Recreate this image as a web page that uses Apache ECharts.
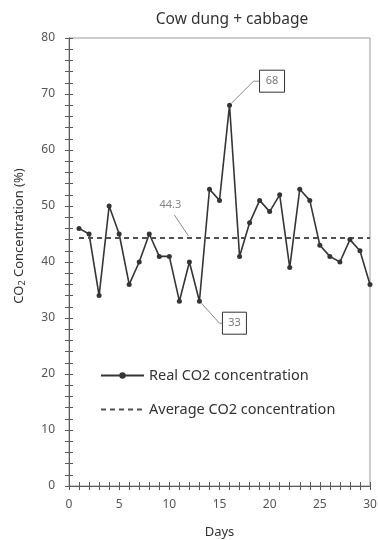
<!DOCTYPE html>
<html><head><meta charset="utf-8">
<script src="https://cdn.jsdelivr.net/npm/echarts@6/dist/echarts.min.js"></script>
<style>html,body{margin:0;padding:0;background:#fff}#c{width:378px;height:540px}</style>
</head><body><div id="c"></div>
<script>
var days = [1,2,3,4,5,6,7,8,9,10,11,12,13,14,15,16,17,18,19,20,21,22,23,24,25,26,27,28,29,30];
var realCO2 = [46,45,34,50,45,36,40,45,41,41,33,40,33,53,51,68,41,47,51,49,52,39,53,51,43,41,40,44,42,36];
var averageCO2 = 44.3;
var avgRange = [1,30];
var xTicks = [0,5,10,15,20,25,30];
var yTicks = [0,10,20,30,40,50,60,70,80];
var annotations = [{day:16, value:68, text:'68'},{day:13, value:33, text:'33'}];

var FONT = 'Noto Sans';
var axisColor = '#5a5a5a';
var GL = 69, GR = 8, GT = 38, GB = 54, W = 378, H = 540;
var chart = echarts.init(document.getElementById('c'), null, {renderer:'canvas'});
function xAx(main, gi){
  return {type:'value', gridIndex:gi, min:xTicks[0], max:xTicks[xTicks.length-1], interval:xTicks[1]-xTicks[0],
    position: main ? 'bottom' : 'top',
    axisLine:{show:true, onZero:false, lineStyle:{color:axisColor, width:1}},
    axisTick:{show:true, inside:false, length:4, lineStyle:{color:axisColor}},
    minorTick:{show:true, splitNumber:5, length:4, lineStyle:{color:axisColor}},
    axisLabel:{show:main, color:'#555', fontFamily:FONT, fontSize:12, margin:13},
    splitLine:{show:false}, minorSplitLine:{show:false},
    name: main ? 'Days' : '', nameLocation:'middle', nameGap:40,
    nameTextStyle:{color:'#333', fontFamily:FONT, fontSize:13}, z: main ? 3 : 4};
}
function yAx(main, gi){
  return {type:'value', gridIndex:gi, min:yTicks[0], max:yTicks[yTicks.length-1], interval:yTicks[1]-yTicks[0],
    position: main ? 'left' : 'right',
    axisLine:{show:true, onZero:false, lineStyle:{color:axisColor, width:1}},
    axisTick:{show:true, inside:false, length:4, lineStyle:{color:axisColor}},
    minorTick:{show:true, splitNumber:5, length:4, lineStyle:{color:axisColor}},
    axisLabel:{show:main, color:'#555', fontFamily:FONT, fontSize:12, margin:14},
    splitLine:{show:false}, minorSplitLine:{show:false},
    name: main ? 'CO{sub|2} Concentration (%)' : '', nameLocation:'middle', nameGap:42,
    nameTextStyle:{color:'#333', fontFamily:FONT, fontSize:13, padding:[0,0,0,52],
      rich:{sub:{fontSize:9, verticalAlign:'bottom', padding:[7,0,0,0], fontFamily:FONT, color:'#333'}}}};
}
function hidden(type, gi){
  return {type:'value', gridIndex:gi, show:false, min:0, max:1};
}
var option = {
  animation:false,
  backgroundColor:'#fff',
  title:{text:'Cow dung + cabbage', left:227, textAlign:'center', top:7,
    textStyle:{color:'#333', fontFamily:FONT, fontSize:15.5, fontWeight:'normal'}},
  grid:[
    {left:GL, right:GR, top:GT, bottom:GB, show:true, borderColor:'#9a9a9a', borderWidth:1, backgroundColor:'transparent', containLabel:false, outerBoundsMode:'none'},
    {left:GL, right:GR, top:H-GB, bottom:0, show:false, containLabel:false, outerBoundsMode:'none'},
    {left:0, right:W-GL, top:GT, bottom:GB, show:false, containLabel:false, outerBoundsMode:'none'}
  ],
  xAxis:[xAx(true,0), xAx(false,1), hidden('x',2)],
  yAxis:[yAx(true,0), hidden('y',1), yAx(false,2)],
  legend:{orient:'vertical', left:100, top:366, padding:0, itemGap:15, itemWidth:43, itemHeight:8,
    textStyle:{color:'#333', fontFamily:FONT, fontSize:14.5, lineHeight:19},
    data:[{name:'Real CO2 concentration'},{name:'Average CO2 concentration', itemStyle:{opacity:0}}]},
  series:[
    {name:'Real CO2 concentration', type:'line', xAxisIndex:0, yAxisIndex:0,
      data: days.map(function(d,i){return [d, realCO2[i]];}),
      symbol:'circle', symbolSize:5, showSymbol:true,
      lineStyle:{color:'#353535', width:1.6}, itemStyle:{color:'#353535'}},
    {name:'Average CO2 concentration', type:'line', xAxisIndex:0, yAxisIndex:0,
      data: avgRange.map(function(d){return [d, averageCO2];}),
      symbol:'none', lineStyle:{color:'#505050', width:2, type:[5,4]}, itemStyle:{color:'#505050'}}
  ]
};
chart.setOption(option);

var g = [];
var gray = '#8a8a8a';
var p = chart.convertToPixel({xAxisIndex:0, yAxisIndex:0}, [annotations[0].day, annotations[0].value]);
g.push({type:'polyline', shape:{points:[[p[0]+2,p[1]-2],[p[0]+24,p[1]-24],[p[0]+30,p[1]-24]]}, style:{stroke:gray, lineWidth:1, fill:null}, z:10});
g.push({type:'rect', shape:{x:p[0]+30, y:p[1]-35, width:25, height:22}, style:{stroke:'#333', lineWidth:1, fill:'#fff'}, z:10});
g.push({type:'text', x:p[0]+42.5, y:p[1]-24, style:{text:annotations[0].text, fill:'#777', font:'11px "Noto Sans"', align:'center', verticalAlign:'middle'}, z:11});
var q = chart.convertToPixel({xAxisIndex:0, yAxisIndex:0}, [annotations[1].day, annotations[1].value]);
g.push({type:'polyline', shape:{points:[[q[0]+2,q[1]+2],[q[0]+20,q[1]+22],[q[0]+23,q[1]+22]]}, style:{stroke:gray, lineWidth:1, fill:null}, z:10});
g.push({type:'rect', shape:{x:q[0]+23, y:q[1]+11, width:24, height:22}, style:{stroke:'#333', lineWidth:1, fill:'#fff'}, z:10});
g.push({type:'text', x:q[0]+35, y:q[1]+22, style:{text:annotations[1].text, fill:'#777', font:'11px "Noto Sans"', align:'center', verticalAlign:'middle'}, z:11});
var a = chart.convertToPixel({xAxisIndex:0, yAxisIndex:0}, [12, averageCO2]);
g.push({type:'line', shape:{x1:a[0]-1, y1:a[1]-2, x2:a[0]-15, y2:a[1]-23}, style:{stroke:gray, lineWidth:1}, z:10});
g.push({type:'text', x:a[0]-19, y:a[1]-33, style:{text:String(averageCO2), fill:'#888', font:'11px "Noto Sans"', align:'center', verticalAlign:'middle'}, z:11});
chart.setOption({graphic:g});
</script>
</body></html>
